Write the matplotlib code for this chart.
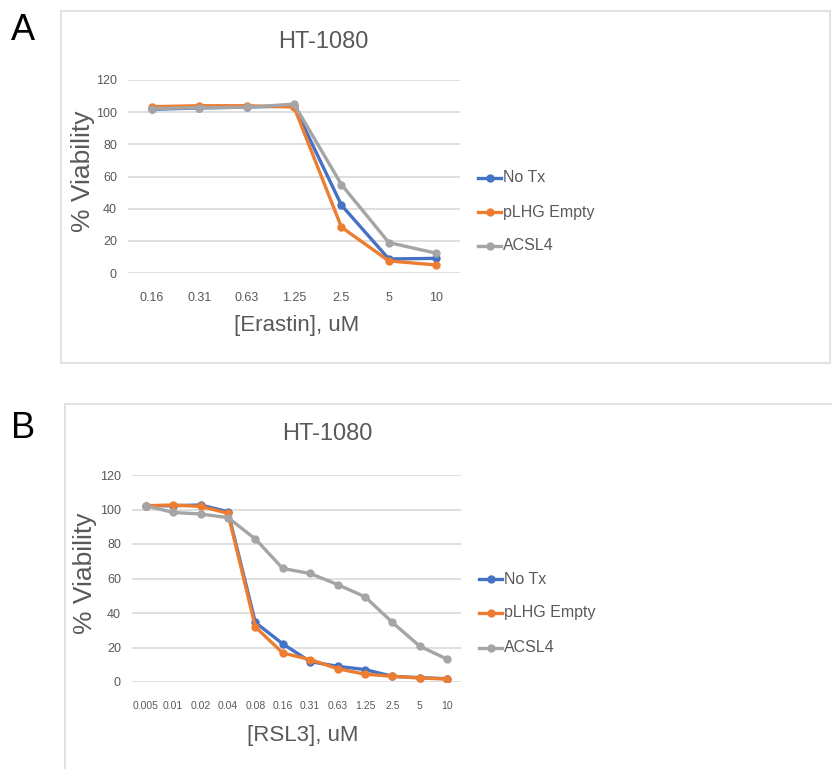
import matplotlib
matplotlib.use("Agg")
import matplotlib.pyplot as plt
from matplotlib.patches import Rectangle
from matplotlib.lines import Line2D

# ---------------- data ----------------
erastin_doses = ["0.16", "0.31", "0.63", "1.25", "2.5", "5", "10"]
erastin_notx = [101.8, 102.6, 103.2, 103.8, 42.2, 8.7, 9.1]
erastin_plhg = [103.4, 104.0, 104.0, 103.2, 28.5, 7.5, 5.0]
erastin_acsl4 = [102.2, 102.8, 103.0, 105.0, 55.0, 18.9, 12.3]

rsl3_doses = ["0.005", "0.01", "0.02", "0.04", "0.08", "0.16", "0.31",
              "0.63", "1.25", "2.5", "5", "10"]
rsl3_notx = [102.2, 102.2, 102.6, 98.7, 34.5, 22.1, 11.8, 9.1, 7.2, 3.3, 2.5, 1.9]
rsl3_plhg = [102.2, 102.6, 101.8, 97.8, 31.9, 16.8, 13.0, 7.7, 4.5, 3.3, 2.3, 1.7]
rsl3_acsl4 = [102.2, 98.3, 97.4, 95.3, 82.9, 65.8, 62.9, 56.5, 49.4, 34.5, 20.7, 13.2]

series_names = ["No Tx", "pLHG Empty", "ACSL4"]
colors = ["#4472C4", "#ED7D31", "#A5A5A5"]
yticks = [0, 20, 40, 60, 80, 100, 120]

# ---------------- layout ----------------
W, H = 832, 769
fig = plt.figure(figsize=(W / 100, H / 100), dpi=100)
FONT = ["Liberation Sans", "DejaVu Sans"]
plt.rcParams["font.family"] = FONT
TXT = "#595959"


def fx(x):
    return x / W


def fy(y):
    return 1 - y / H


def add_axes_px(x0, x1, y_top, y_bot):
    return fig.add_axes([fx(x0), fy(y_bot), fx(x1) - fx(x0), (y_bot - y_top) / H])


def draw_panel(ax, cats, data, xlabel, title, title_xy, xlabel_xy, ylabel_xy,
               legend_ys, legend_x, xtick_fs):
    x = list(range(len(cats)))
    for i in [0, 1, 2]:
        ax.plot(x, data[i], color=colors[i], lw=2.4, marker="o", ms=5,
                solid_joinstyle="round", zorder=3)
    ax.set_xlim(-0.5, len(cats) - 0.5)
    ax.set_ylim(0, 120)
    ax.set_yticks(yticks)
    ax.set_yticklabels([str(v) for v in yticks], color=TXT, fontsize=9)
    ax.set_xticks(x)
    ax.set_xticklabels(cats, color=TXT, fontsize=xtick_fs)
    ax.tick_params(axis="both", length=0)
    ax.tick_params(axis="y", pad=8)
    ax.tick_params(axis="x", pad=14)
    for s in ax.spines.values():
        s.set_visible(False)
    ax.grid(axis="y", color="#D9D9D9", lw=1.2, zorder=0)
    ax.set_axisbelow(True)
    ax.patch.set_alpha(0)
    fig.text(fx(title_xy[0]), fy(title_xy[1]), title, ha="center", va="center",
             fontsize=17, color=TXT)
    fig.text(fx(xlabel_xy[0]), fy(xlabel_xy[1]), xlabel, ha="center", va="center",
             fontsize=16, color=TXT)
    fig.text(fx(ylabel_xy[0]), fy(ylabel_xy[1]), "% Viability", ha="center", va="center",
             fontsize=19, color=TXT, rotation=90)
    for i, yy in enumerate(legend_ys):
        fig.add_artist(Line2D([fx(legend_x), fx(legend_x + 23)], [fy(yy), fy(yy)],
                              color=colors[i], lw=2.4, transform=fig.transFigure))
        fig.add_artist(Line2D([fx(legend_x + 11.5)], [fy(yy)], color=colors[i],
                              marker="o", ms=5, lw=0, transform=fig.transFigure))
        fig.text(fx(legend_x + 25), fy(yy), series_names[i], ha="left", va="center",
                 fontsize=11.5, color=TXT)


# panel frames
fig.add_artist(Rectangle((fx(61), fy(363)), fx(830) - fx(61), (363 - 11) / H,
                         transform=fig.transFigure, fill=False, ec="#E2E2E2", lw=1.5))
fig.add_artist(Rectangle((fx(65), fy(780)), fx(850) - fx(65), (780 - 404) / H,
                         transform=fig.transFigure, fill=False, ec="#E2E2E2", lw=1.5))

axA = add_axes_px(128, 460, 80, 273)
draw_panel(axA, erastin_doses, [erastin_notx, erastin_plhg, erastin_acsl4],
           "[Erastin], uM", "HT-1080", (323, 42), (297, 325), (83, 171),
           [178, 212, 246], 478, 9)

axB = add_axes_px(132, 461, 475, 682)
draw_panel(axB, rsl3_doses, [rsl3_notx, rsl3_plhg, rsl3_acsl4],
           "[RSL3], uM", "HT-1080", (327, 434), (303, 735), (85, 573),
           [579, 613, 648], 479, 7.5)

fig.text(fx(23), fy(31), "A", ha="center", va="center", fontsize=26, color="black")
fig.text(fx(23), fy(428), "B", ha="center", va="center", fontsize=26, color="black")

fig.savefig("out.png", dpi=100, facecolor="white")
